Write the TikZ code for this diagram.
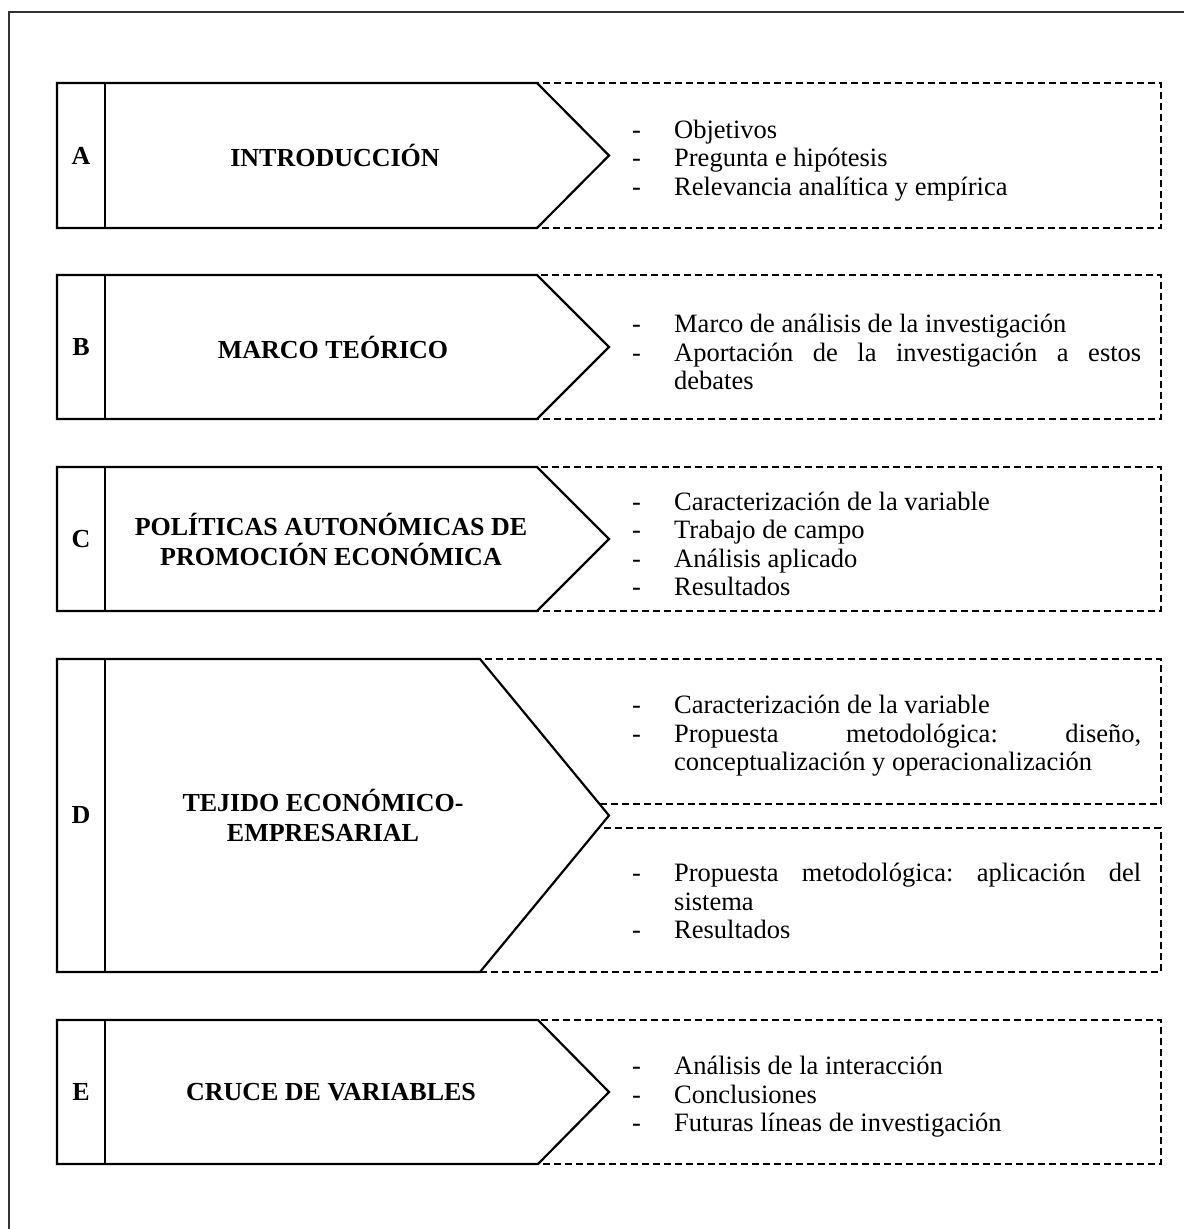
\documentclass[tikz,border=0pt]{standalone}
\usepackage{fontspec}
\setmainfont{Liberation Serif}
% one list entry: a dash, then the text with a hanging indent
\newcommand\itm[1]{\par\hangindent=42pt\hangafter=1\noindent\makebox[42pt][l]{-}#1\par}
\begin{document}
\begin{tikzpicture}[x=1pt,y=-1pt,
  frameline/.style={line width=1.4pt, draw=black!80},
  chevron/.style={draw, line width=2.2pt, fill=white, line join=miter},
  divider/.style={draw, line width=2.2pt},
  dashbox/.style={draw, line width=2.1pt, dash pattern=on 7pt off 4pt},
  letter/.style={font=\fontsize{26}{30}\selectfont\bfseries, inner sep=0pt},
  heading/.style={font=\fontsize{26}{30}\selectfont\bfseries, align=center, inner sep=0pt},
  items/.style={font=\fontsize{26.5}{28.5}\selectfont, text width=509pt, align=justify,
    inner sep=0pt, anchor=west,
    execute at begin node={\frenchspacing\hyphenpenalty=10000\exhyphenpenalty=10000\tolerance=10000}}
]
\useasboundingbox (0,0) rectangle (1184,1229);

% outer frame (open at the right and bottom)
\coordinate (fTR) at (1184,12);
\coordinate (fTL) at (9,12);
\coordinate (fBL) at (9,1229);
\draw[frameline] (fTR) -- (fTL) -- (fBL);

% dashed boxes holding the item lists
\draw[dashbox] (500,83) rectangle (1161,228);
\draw[dashbox] (500,275) rectangle (1161,419);
\draw[dashbox] (500,467) rectangle (1161,611);
\draw[dashbox] (470,659) rectangle (1161,804);
\draw[dashbox] (470,828) rectangle (1161,972);
\draw[dashbox] (500,1020) rectangle (1161,1164);

% chevrons with their letter columns
\draw[chevron] (57,83) -- (537,83) -- (609,155.5) -- (537,228) -- (57,228) -- cycle;
\draw[divider] (105,83) -- (105,228);
\draw[chevron] (57,275) -- (537,275) -- (609,347) -- (537,419) -- (57,419) -- cycle;
\draw[divider] (105,275) -- (105,419);
\draw[chevron] (57,467) -- (537,467) -- (609,539) -- (537,611) -- (57,611) -- cycle;
\draw[divider] (105,467) -- (105,611);
\draw[chevron] (57,659) -- (480,659) -- (609,815.5) -- (480,972) -- (57,972) -- cycle;
\draw[divider] (105,659) -- (105,972);
\draw[chevron] (57,1020) -- (538,1020) -- (609,1092) -- (538,1164) -- (57,1164) -- cycle;
\draw[divider] (105,1020) -- (105,1164);

% letters
\node[letter] (la) at (81,155.5) {A};
\node[letter] (lb) at (81,347) {B};
\node[letter] (lc) at (81,539) {C};
\node[letter] (ld) at (81,815.5) {D};
\node[letter] (le) at (81,1092) {E};

% headings
\node[heading] (ha) at (335,155.5) {INTRODUCCIÓN};
\node[heading] (hb) at (333,347) {MARCO TEÓRICO};
\node[heading] (hc) at (331,539) {POLÍTICAS AUTONÓMICAS DE\\PROMOCIÓN ECONÓMICA};
\node[heading] (hd) at (323,815.5) {TEJIDO ECONÓMICO-\\EMPRESARIAL};
\node[heading] (he) at (331,1092) {CRUCE DE VARIABLES};

% item lists
\node[items] (ia) at (632,155.5) {%
  \itm{Objetivos}
  \itm{Pregunta e hipótesis}
  \itm{Relevancia analítica y empírica}};
\node[items] (ib) at (632,347) {%
  \itm{Marco de análisis de la investigación}
  \itm{Aportación de la investigación a estos\linebreak debates}};
\node[items] (ic) at (632,539) {%
  \itm{Caracterización de la variable}
  \itm{Trabajo de campo}
  \itm{Análisis aplicado}
  \itm{Resultados}};
\node[items] (id1) at (632,731) {%
  \itm{Caracterización de la variable}
  \itm{Propuesta metodológica: diseño,\linebreak conceptualización y operacionalización}};
\node[items] (id2) at (632,896) {%
  \itm{Propuesta metodológica: aplicación del\linebreak sistema}
  \itm{Resultados}};
\node[items] (ie) at (632,1092) {%
  \itm{Análisis de la interacción}
  \itm{Conclusiones}
  \itm{Futuras líneas de investigación}};
\end{tikzpicture}
\end{document}
